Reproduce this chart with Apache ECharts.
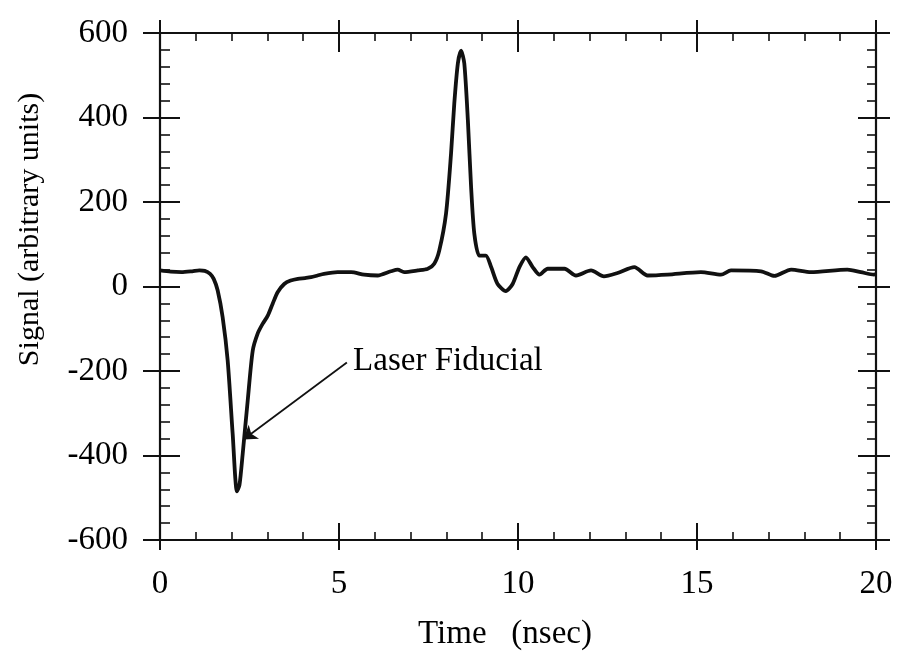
<!DOCTYPE html>
<html>
<head>
<meta charset="utf-8">
<script src="https://cdn.jsdelivr.net/npm/echarts@6/dist/echarts.min.js"></script>
<style>
  html, body { margin: 0; padding: 0; background: #fff; }
  #chart { width: 899px; height: 665px; }
</style>
</head>
<body>
<div id="chart"></div>
<script>
// Detector trace: time (ns) and signal (arbitrary units)
const timeNs = [0, 0.3, 0.6, 0.9, 1.1, 1.25, 1.4, 1.5, 1.61, 1.75, 1.89, 2.03, 2.15, 2.22, 2.31, 2.45, 2.59, 2.73, 2.87, 3.01, 3.15, 3.29, 3.47, 3.65, 3.85, 4.05, 4.22, 4.4, 4.58, 4.96, 5.34, 5.7, 6.08, 6.45, 6.64, 6.82, 7.2, 7.48, 7.66, 7.8, 7.99, 8.13, 8.22, 8.32, 8.41, 8.5, 8.6, 8.69, 8.78, 8.92, 9.1, 9.25, 9.43, 9.66, 9.85, 10.04, 10.22, 10.41, 10.6, 10.83, 11.3, 11.62, 12.04, 12.4, 12.78, 13.25, 13.62, 14.18, 15.11, 15.67, 15.95, 16.79, 17.16, 17.63, 18.18, 19.2, 19.58, 19.94, 20];
const signal = [38, 35, 34, 36, 38, 37, 30, 18, -9, -73, -175, -349, -485, -470, -396, -270, -152, -111, -88, -69, -40, -13, 6, 14, 18, 20, 22, 26, 30, 34, 34, 28, 26, 36, 40, 34, 38, 42, 54, 85, 173, 315, 433, 528, 558, 528, 393, 235, 125, 73, 73, 46, 6, -11, 6, 46, 69, 46, 28, 42, 42, 26, 38, 24, 32, 46, 26, 28, 34, 28, 38, 36, 25, 40, 34, 40, 34, 28, 30];

// Axis ranges and tick spacing
const xRange = [0, 20], xStep = 5;
const yRange = [-600, 600], yStep = 200;

// Annotation: label text and arrow from the label to the dip
const noteText = 'Laser Fiducial';
const noteLabelAt = [5.38, -176];
const noteArrow = [[5.22, -180], [2.33, -362]];

const ink = '#111';
const serif = '"Liberation Serif", "Times New Roman", serif';

const points = timeNs.map((t, i) => [t, signal[i]]);

function xAx(pos, inside, len, withMinor, withLine, withLabels) {
  return {
    type: 'value', position: pos, min: xRange[0], max: xRange[1], interval: xStep,
    axisLine: { show: withLine, onZero: false, lineStyle: { color: ink, width: 2.2 } },
    axisTick: { show: true, inside: inside, length: len, lineStyle: { color: ink, width: 2 } },
    minorTick: { show: withMinor, splitNumber: 5, length: 8, lineStyle: { color: ink, width: 1.6 } },
    splitLine: { show: false }, minorSplitLine: { show: false },
    axisLabel: withLabels
      ? { show: true, margin: 28, color: '#000', fontFamily: serif, fontSize: 33 }
      : { show: false }
  };
}

function yAx(pos, inside, len, minorLen, withMinor, withLine, withLabels) {
  return {
    type: 'value', position: pos, min: yRange[0], max: yRange[1], interval: yStep,
    axisLine: { show: withLine, onZero: false, lineStyle: { color: ink, width: 2.2 } },
    axisTick: { show: true, inside: inside, length: len, lineStyle: { color: ink, width: 2 } },
    minorTick: { show: withMinor, splitNumber: 5, length: minorLen, lineStyle: { color: ink, width: 1.6 } },
    splitLine: { show: false }, minorSplitLine: { show: false },
    axisLabel: withLabels
      ? { show: true, margin: 32, color: '#000', fontFamily: serif, fontSize: 33 }
      : { show: false }
  };
}

const xMain = xAx('bottom', true, 17, true, true, true);
xMain.name = 'Time   (nsec)';
xMain.nameLocation = 'middle';
xMain.nameGap = 78;
xMain.nameTextStyle = { color: '#000', fontFamily: serif, fontSize: 33, padding: [0, 26, 0, 0] };

const yMain = yAx('left', true, 20, 10, true, true, true);
yMain.name = 'Signal (arbitrary units)';
yMain.nameLocation = 'middle';
yMain.nameGap = 115;
yMain.nameTextStyle = { color: '#000', fontFamily: serif, fontSize: 30, padding: [0, 0, 0, 114] };

const chart = echarts.init(document.getElementById('chart'), null, { renderer: 'canvas' });
chart.setOption({
  backgroundColor: '#fff',
  animation: false,
  grid: { left: 160, right: 23, top: 33, bottom: 125, containLabel: false },
  xAxis: [
    xMain,
    xAx('bottom', false, 10, false, false, false),
    xAx('top', true, 19, true, true, false),
    xAx('top', false, 13, false, false, false)
  ],
  yAxis: [
    yMain,
    yAx('left', false, 17, 0, false, false, false),
    yAx('right', true, 18, 9, true, true, false),
    yAx('right', false, 14, 0, false, false, false)
  ],
  series: [{
    type: 'line',
    xAxisIndex: 0, yAxisIndex: 0,
    data: points,
    showSymbol: false,
    smooth: 0.25,
    lineStyle: { color: ink, width: 3.8 },
    markLine: {
      silent: true,
      symbol: ['none', 'arrow'],
      symbolSize: 13,
      label: { show: false },
      lineStyle: { color: ink, width: 1.8, type: 'solid' },
      data: [[{ coord: noteArrow[0] }, { coord: noteArrow[1] }]]
    },
    markPoint: {
      silent: true,
      symbol: 'circle',
      symbolSize: 1,
      itemStyle: { color: 'rgba(0,0,0,0)' },
      label: {
        show: true, position: 'right', distance: 0,
        formatter: noteText,
        color: '#000', fontFamily: serif, fontSize: 33
      },
      data: [{ coord: noteLabelAt }]
    }
  }]
});
</script>
</body>
</html>
